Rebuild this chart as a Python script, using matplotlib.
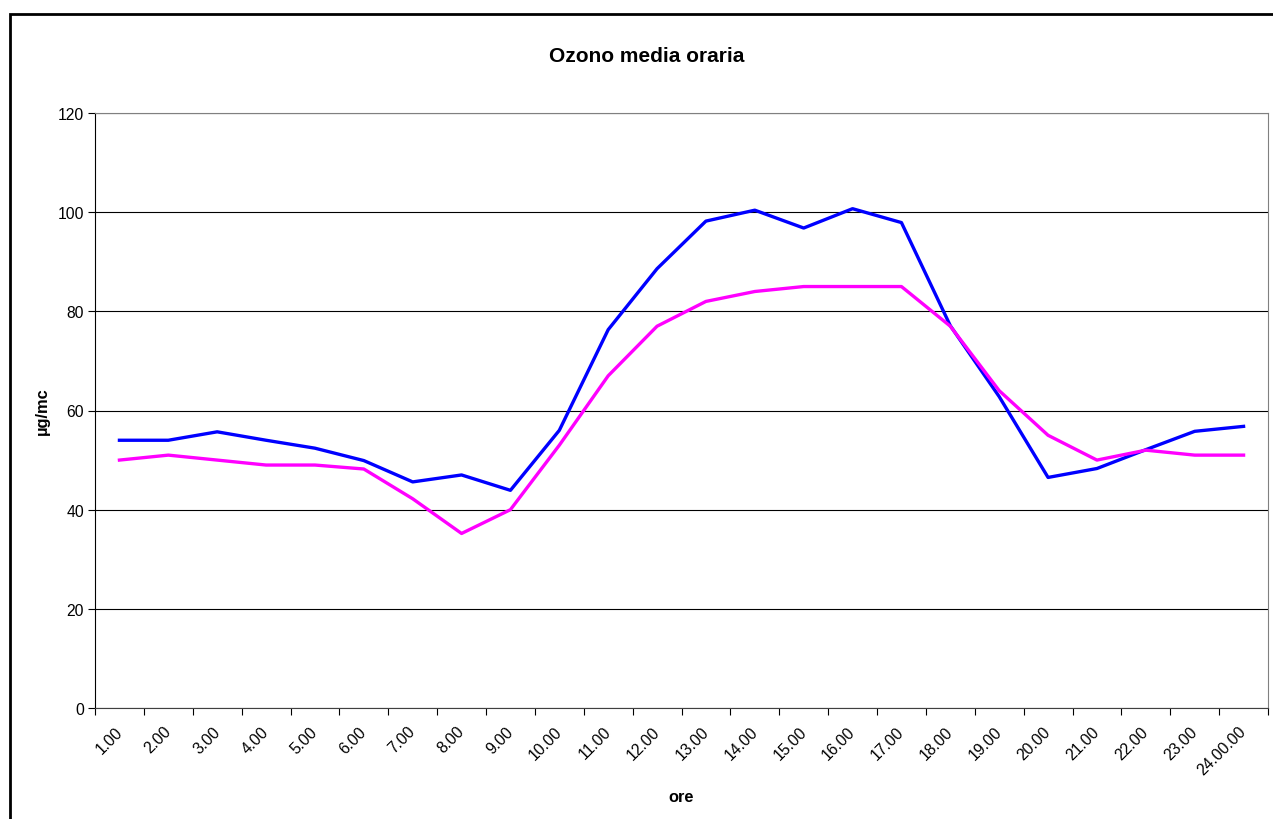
import matplotlib.pyplot as plt
from matplotlib.patches import Rectangle
import numpy as np

plt.rcParams['font.family'] = ['Liberation Sans', 'DejaVu Sans']

ore = ['1.00', '2.00', '3.00', '4.00', '5.00', '6.00', '7.00', '8.00', '9.00',
       '10.00', '11.00', '12.00', '13.00', '14.00', '15.00', '16.00', '17.00',
       '18.00', '19.00', '20.00', '21.00', '22.00', '23.00', '24.00.00']
serie_blu = [54.0, 54.0, 55.7, 54.0, 52.4, 49.9, 45.6, 47.0, 43.9, 56.0, 76.3, 88.6,
             98.2, 100.4, 96.8, 100.7, 97.9, 77.1, 62.8, 46.5, 48.3, 52.1, 55.8, 56.8]
serie_rosa = [50, 51, 50, 49, 49, 48.2, 42.2, 35.2, 40, 53, 67, 77,
              82, 84, 85, 85, 85, 77, 64, 55, 50, 52, 51, 51]

fig = plt.figure(figsize=(12.73, 8.2), dpi=100)
fig.patches.append(Rectangle((10 / 1273, -0.1), 1.2, 1 - 15 / 820 + 0.1,
                             transform=fig.transFigure, fill=False,
                             edgecolor='black', linewidth=2))

ax = fig.add_axes([95 / 1273, 1 - 709 / 820, (1268 - 95) / 1273, (709 - 114) / 820])
x = np.arange(len(ore)) + 0.5
ax.plot(x, serie_blu, color='#0000ff', linewidth=2.4, zorder=3)
ax.plot(x, serie_rosa, color='#ff00ff', linewidth=2.4, zorder=3)

ax.set_xlim(0, len(ore))
ax.set_ylim(0, 120)
ax.set_yticks(range(0, 121, 20))
ax.set_xticks(np.arange(len(ore) + 1))
ax.set_xticklabels([])
# etichette leggermente a sinistra del centro categoria, come in Excel
ax.set_xticks(x - 0.1, minor=True)
ax.set_xticklabels(ore, minor=True, rotation=45, ha='right', va='top',
                   rotation_mode='anchor', fontsize=11.3)
ax.tick_params(axis='x', which='minor', length=0, pad=11)
ax.tick_params(axis='x', which='major', length=5, direction='out', color='black')
ax.tick_params(axis='y', length=5, direction='out', labelsize=11.3, pad=3)

ax.grid(axis='y', color='black', linewidth=0.8)
for s in ['top', 'right']:
    ax.spines[s].set_color('#808080')
ax.spines['left'].set_color('black')
ax.spines['bottom'].set_color('#404040')

fig.text(647 / 1273, 1 - 57 / 820, 'Ozono media oraria', ha='center', va='center',
         fontsize=15, fontweight='bold')
fig.text(42 / 1273, 1 - 411 / 820, 'µg/mc', ha='center', va='center',
         rotation=90, fontsize=11.8, fontweight='bold')
fig.text(681 / 1273, 1 - 798 / 820, 'ore', ha='center', va='center',
         fontsize=11.8, fontweight='bold')

fig.savefig('out.png', dpi=100)
